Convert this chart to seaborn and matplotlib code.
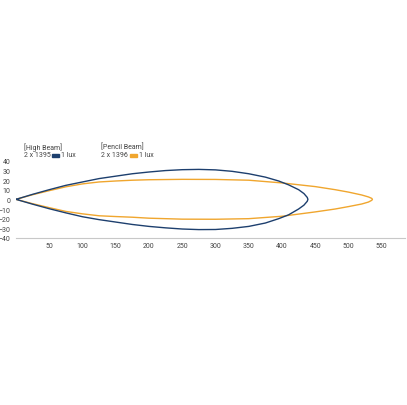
import matplotlib.pyplot as plt
import pandas as pd
import seaborn as sns

# beam contours (distance in m, lateral in m)
high_upper_x = [0, 25, 50, 75, 100, 125, 150, 175, 200, 225, 250, 275, 300, 325, 350, 375, 395, 410, 425, 433, 438, 439]
high_upper_y = [0, 5.2, 10, 14.5, 18, 21.5, 24, 26.5, 28.3, 29.8, 30.7, 31, 30.5, 29, 26.5, 23, 19, 15, 10, 6, 2, 0]
high_lower_x = [0, 25, 50, 75, 100, 125, 150, 175, 200, 225, 250, 275, 300, 325, 350, 375, 395, 410, 425, 433, 438, 439]
high_lower_y = [0, -5, -9.7, -14, -18, -21, -23.5, -26, -28, -29.5, -30.7, -31.3, -31.2, -30, -28, -24.5, -20, -16, -10, -6, -2, 0]

pencil_upper_x = [0, 25, 50, 75, 100, 125, 150, 175, 200, 250, 300, 350, 400, 450, 480, 500, 520, 530, 535, 536]
pencil_upper_y = [0, 4.8, 9, 13, 16, 18, 19, 19.8, 20.3, 20.7, 20.6, 19.8, 17, 13.2, 10, 7.5, 4.5, 2.5, 1, 0]
pencil_lower_x = [0, 25, 50, 75, 100, 125, 150, 175, 200, 250, 300, 350, 400, 450, 480, 500, 520, 530, 535, 536]
pencil_lower_y = [0, -4.5, -8.6, -12.5, -15, -17, -17.8, -18.5, -19.5, -20.5, -20.6, -20, -17.5, -13, -10, -7.5, -4.8, -2.8, -1, 0]

x_ticks = [50, 100, 150, 200, 250, 300, 350, 400, 450, 500, 550]
y_ticks = [-40, -30, -20, -10, 0, 10, 20, 30, 40]

BLUE = "#1d3f6e"
ORANGE = "#f0a62e"


def contour(ux, uy, lx, ly):
    # walk out along the upper edge, back along the lower one
    xs = list(ux) + list(reversed(lx))
    ys = list(uy) + list(reversed(ly))
    return pd.DataFrame({"x": xs, "y": ys})


sns.set_theme(style="white")
plt.rcParams["font.family"] = ["Roboto", "DejaVu Sans"]

fig = plt.figure(figsize=(4.07, 4.06), dpi=100)
ax = fig.add_axes([16 / 407, (406 - 239) / 406, 389 / 407, 77.3 / 406])

high_df = contour(high_upper_x, high_upper_y, high_lower_x, high_lower_y)
pencil_df = contour(pencil_upper_x, pencil_upper_y, pencil_lower_x, pencil_lower_y)

sns.lineplot(data=pencil_df, x="x", y="y", sort=False, estimator=None,
             color=ORANGE, linewidth=1.0, ax=ax)
sns.lineplot(data=high_df, x="x", y="y", sort=False, estimator=None,
             color=BLUE, linewidth=1.0, ax=ax)

ax.set_xlim(0, 585)
ax.set_ylim(-40, 40)
ax.set_xticks(x_ticks)
ax.set_yticks(y_ticks)
ax.set_xlabel("")
ax.set_ylabel("")
for side in ["top", "right", "left"]:
    ax.spines[side].set_visible(False)
ax.spines["bottom"].set_color("#c8c8c8")
ax.spines["bottom"].set_linewidth(0.8)
ax.tick_params(axis="x", direction="in", length=2.5, width=0.6, color="#c8c8c8",
               labelsize=5, labelcolor="#444444", pad=3)
ax.tick_params(axis="y", length=0, labelsize=5, labelcolor="#444444", pad=4)

# legend blocks above the plot
txt = dict(fontsize=5, color="#444444", va="center")
fig.text(24 / 407, 1 - 147.5 / 406, "[High Beam]", **txt)
fig.text(24 / 407, 1 - 156 / 406, "2 x 1395", **txt)
fig.patches.append(plt.Rectangle((52 / 407, 1 - 157.8 / 406), 7 / 407, 2.8 / 406,
                                 transform=fig.transFigure, color=BLUE))
fig.text(61 / 407, 1 - 156 / 406, "1 lux", **txt)

fig.text(101 / 407, 1 - 147.5 / 406, "[Pencil Beam]", **txt)
fig.text(101 / 407, 1 - 156 / 406, "2 x 1396", **txt)
fig.patches.append(plt.Rectangle((130 / 407, 1 - 157.8 / 406), 7 / 407, 2.8 / 406,
                                 transform=fig.transFigure, color=ORANGE))
fig.text(139 / 407, 1 - 156 / 406, "1 lux", **txt)

fig.savefig("out.png", dpi=100)
plt.close(fig)
